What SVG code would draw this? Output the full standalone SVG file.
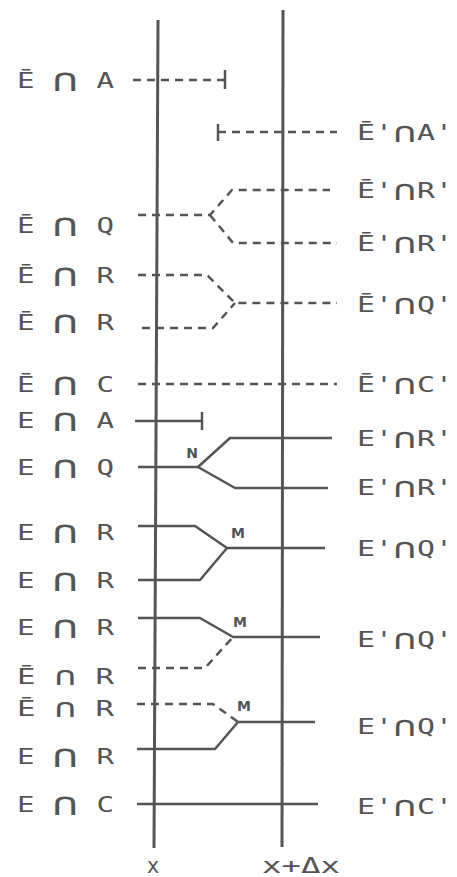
<svg xmlns="http://www.w3.org/2000/svg" width="457" height="877" viewBox="0 0 457 877">
<style>
.lbl{font-family:"DejaVu Sans Mono","Liberation Mono",monospace;font-size:21px;fill:#555}
.cap{font-size:32px}
.capt{font-size:26px}
.capr{font-size:28px}
.sm{font-family:"DejaVu Sans","Liberation Sans",sans-serif;font-size:14px;font-weight:bold;fill:#555}
.ax{font-family:"DejaVu Sans Mono","Liberation Mono",monospace;font-size:21px;fill:#555}
.s{fill:none;stroke:#555;stroke-width:2.5;stroke-linejoin:round}
.d{fill:none;stroke:#555;stroke-width:2.5;stroke-dasharray:8 6}
.v{fill:none;stroke:#555;stroke-width:3}
</style>
<rect width="457" height="877" fill="#fff"/>
<g id="axes">
<path class="v" d="M158,20 L154,848"/>
<path class="v" d="M283,10 L282,847"/>
<text id="lx" class="ax" x="153" y="873" text-anchor="middle">x</text>
<text id="lxdx" class="ax" x="262" y="873" textLength="78" lengthAdjust="spacingAndGlyphs">x+Δx</text>
</g>
<g id="connectors">
<path class="d" d="M133,80 H225"/>
<path class="s" d="M225,70 V89"/>
<path class="s" d="M218,124 V141"/>
<path class="d" d="M218,132 H337"/>
<path class="d" d="M138,215 H210 L232,190 H330"/>
<path class="d" d="M210,215 L233,243 H337"/>
<path class="d" d="M138,275 H207 L235,303 H337"/>
<path class="d" d="M142,328 H213 L235,303"/>
<path class="d" d="M138,384 H337"/>
<path class="s" d="M135,421 H202"/>
<path class="s" d="M202,412 V430"/>
<path class="s" d="M138,467 H198 L230,438 H332"/>
<path class="s" d="M198,467 L235,488 H328"/>
<path class="s" d="M138,526 H195 L227,548 H325"/>
<path class="s" d="M138,580 H200 L227,548"/>
<path class="s" d="M138,618 H200 L233,637 H320"/>
<path class="d" d="M138,668 H205 L233,637"/>
<path class="d" d="M137,704 H213 L238,722"/>
<path class="s" d="M137,749 H215 L238,722 H315"/>
<path class="s" d="M137,804 H318"/>
<text id="N" class="sm" x="192" y="458" text-anchor="middle">N</text>
<text id="M1" class="sm" x="238" y="538" text-anchor="middle">M</text>
<text id="M2" class="sm" x="240" y="627" text-anchor="middle">M</text>
<text id="M3" class="sm" x="244" y="711" text-anchor="middle">M</text>
</g>
<g id="L1"><text class="lbl" x="17" y="88" textLength="97" lengthAdjust="spacingAndGlyphs">Ē <tspan class="cap" dy="3">∩</tspan><tspan dy="-3"> A</tspan></text></g>
<g id="L2"><text class="lbl" x="17" y="233" textLength="97" lengthAdjust="spacingAndGlyphs">Ē <tspan class="cap" dy="3">∩</tspan><tspan dy="-3"> Q</tspan></text></g>
<g id="L3"><text class="lbl" x="17" y="283" textLength="97" lengthAdjust="spacingAndGlyphs">Ē <tspan class="cap" dy="3">∩</tspan><tspan dy="-3"> R</tspan></text></g>
<g id="L4"><text class="lbl" x="17" y="330" textLength="97" lengthAdjust="spacingAndGlyphs">Ē <tspan class="cap" dy="3">∩</tspan><tspan dy="-3"> R</tspan></text></g>
<g id="L5"><text class="lbl" x="17" y="392" textLength="97" lengthAdjust="spacingAndGlyphs">Ē <tspan class="cap" dy="3">∩</tspan><tspan dy="-3"> C</tspan></text></g>
<g id="L6"><text class="lbl" x="17" y="428" textLength="97" lengthAdjust="spacingAndGlyphs">E <tspan class="cap" dy="3">∩</tspan><tspan dy="-3"> A</tspan></text></g>
<g id="L7"><text class="lbl" x="17" y="475" textLength="97" lengthAdjust="spacingAndGlyphs">E <tspan class="cap" dy="3">∩</tspan><tspan dy="-3"> Q</tspan></text></g>
<g id="L8"><text class="lbl" x="17" y="540" textLength="97" lengthAdjust="spacingAndGlyphs">E <tspan class="cap" dy="3">∩</tspan><tspan dy="-3"> R</tspan></text></g>
<g id="L9"><text class="lbl" x="17" y="588" textLength="97" lengthAdjust="spacingAndGlyphs">E <tspan class="cap" dy="3">∩</tspan><tspan dy="-3"> R</tspan></text></g>
<g id="L10"><text class="lbl" x="17" y="635" textLength="97" lengthAdjust="spacingAndGlyphs">E <tspan class="cap" dy="3">∩</tspan><tspan dy="-3"> R</tspan></text></g>
<g id="L11"><text class="lbl" x="17" y="684" textLength="97" lengthAdjust="spacingAndGlyphs">Ē <tspan class="capt" dy="1">∩</tspan><tspan dy="-1"> R</tspan></text></g>
<g id="L12"><text class="lbl" x="17" y="716" textLength="97" lengthAdjust="spacingAndGlyphs">Ē <tspan class="capt" dy="1">∩</tspan><tspan dy="-1"> R</tspan></text></g>
<g id="L13"><text class="lbl" x="17" y="764" textLength="97" lengthAdjust="spacingAndGlyphs">E <tspan class="cap" dy="3">∩</tspan><tspan dy="-3"> R</tspan></text></g>
<g id="L14"><text class="lbl" x="17" y="812" textLength="97" lengthAdjust="spacingAndGlyphs">E <tspan class="cap" dy="3">∩</tspan><tspan dy="-3"> C</tspan></text></g>
<g id="R1"><text class="lbl" x="357" y="140" textLength="96" lengthAdjust="spacingAndGlyphs">Ē'<tspan class="capr" dy="2">∩</tspan><tspan dy="-2">A'</tspan></text></g>
<g id="R2"><text class="lbl" x="357" y="198" textLength="96" lengthAdjust="spacingAndGlyphs">Ē'<tspan class="capr" dy="2">∩</tspan><tspan dy="-2">R'</tspan></text></g>
<g id="R3"><text class="lbl" x="357" y="251" textLength="96" lengthAdjust="spacingAndGlyphs">Ē'<tspan class="capr" dy="2">∩</tspan><tspan dy="-2">R'</tspan></text></g>
<g id="R4"><text class="lbl" x="357" y="312" textLength="96" lengthAdjust="spacingAndGlyphs">Ē'<tspan class="capr" dy="2">∩</tspan><tspan dy="-2">Q'</tspan></text></g>
<g id="R5"><text class="lbl" x="357" y="392" textLength="96" lengthAdjust="spacingAndGlyphs">Ē'<tspan class="capr" dy="2">∩</tspan><tspan dy="-2">C'</tspan></text></g>
<g id="R6"><text class="lbl" x="357" y="446" textLength="96" lengthAdjust="spacingAndGlyphs">E'<tspan class="capr" dy="2">∩</tspan><tspan dy="-2">R'</tspan></text></g>
<g id="R7"><text class="lbl" x="357" y="495" textLength="96" lengthAdjust="spacingAndGlyphs">E'<tspan class="capr" dy="2">∩</tspan><tspan dy="-2">R'</tspan></text></g>
<g id="R8"><text class="lbl" x="357" y="556" textLength="96" lengthAdjust="spacingAndGlyphs">E'<tspan class="capr" dy="2">∩</tspan><tspan dy="-2">Q'</tspan></text></g>
<g id="R9"><text class="lbl" x="357" y="647" textLength="96" lengthAdjust="spacingAndGlyphs">E'<tspan class="capr" dy="2">∩</tspan><tspan dy="-2">Q'</tspan></text></g>
<g id="R10"><text class="lbl" x="357" y="734" textLength="96" lengthAdjust="spacingAndGlyphs">E'<tspan class="capr" dy="2">∩</tspan><tspan dy="-2">Q'</tspan></text></g>
<g id="R11"><text class="lbl" x="357" y="814" textLength="96" lengthAdjust="spacingAndGlyphs">E'<tspan class="capr" dy="2">∩</tspan><tspan dy="-2">C'</tspan></text></g>
</svg>
